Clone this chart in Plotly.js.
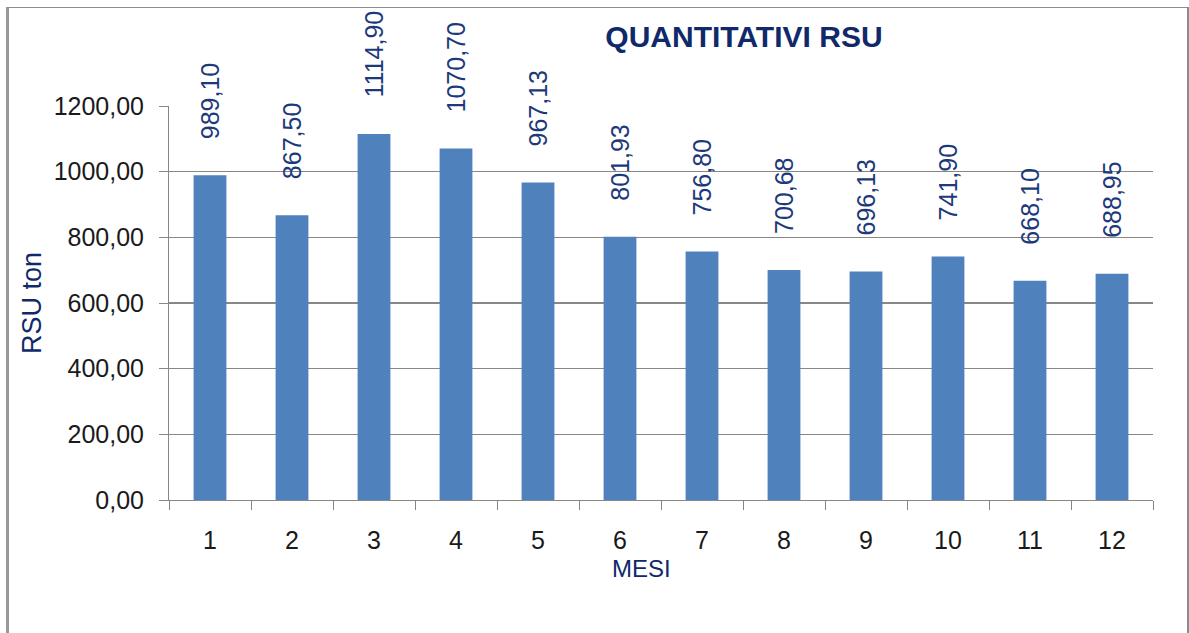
<!DOCTYPE html>
<html>
<head>
<meta charset="utf-8">
<script src="https://cdn.plot.ly/plotly-3.0.1.min.js"></script>
<style>
  html, body { margin: 0; padding: 0; background: #fff; }
  #wrap { position: relative; width: 1189px; height: 633px; overflow: hidden; }
  #chart { width: 1189px; height: 633px; }
  #frame { position: absolute; left: 6px; top: 7px; width: 1178px; height: 640px;
           border-top: 1px solid #8c8c8c; border-right: 2px solid #8c8c8c;
           border-left: 3px solid #999; pointer-events: none; }
</style>
</head>
<body>
<div id="wrap">
  <div id="chart"></div>
  <div id="frame"></div>
</div>
<script>
// ---- data ----
const months = ["1", "2", "3", "4", "5", "6", "7", "8", "9", "10", "11", "12"];
const tonnes = [989.10, 867.50, 1114.90, 1070.70, 967.13, 801.93, 756.80, 700.68, 696.13, 741.90, 668.10, 688.95];
const yTicks = [0, 200, 400, 600, 800, 1000, 1200];

const chartTitle = "QUANTITATIVI RSU";
const xTitle = "MESI";
const yTitle = "RSU ton";

// ---- styles ----
const navy = "#10296b";
const labelNavy = "#1c3a7a";
const barColor = "#4f81bd";
const gridColor = "#878787";
const tickFont = { family: "Liberation Sans, Arial, sans-serif", size: 25, color: "#1a1a1a" };

const fmt = v => v.toFixed(2).replace(".", ",");

const trace = {
  type: "bar",
  x: months,
  y: tonnes,
  marker: { color: barColor, line: { width: 0 } },
  hoverinfo: "x+y"
};

// category index positions (annotations on a category axis use the index)
const valueLabels = months.map((m, i) => ({
  x: i, y: tonnes[i], xref: "x", yref: "y",
  text: fmt(tonnes[i]),
  showarrow: false,
  textangle: -90,
  xanchor: "center", yanchor: "bottom",
  yshift: 34,
  font: { family: "Liberation Sans, Arial, sans-serif", size: 25, color: labelNavy }
}));

valueLabels.push({
  text: xTitle, xref: "paper", yref: "paper",
  x: 0.4797, y: -0.1726, xanchor: "center", yanchor: "middle",
  showarrow: false,
  font: { family: "Liberation Sans, Arial, sans-serif", size: 24, color: navy }
});

const layout = {
  width: 1189, height: 633,
  margin: { l: 169, r: 36, t: 106, b: 133 },
  paper_bgcolor: "#ffffff",
  plot_bgcolor: "#ffffff",
  separators: ",.",
  showlegend: false,
  bargap: 0.6,
  title: {
    text: "<b>" + chartTitle + "</b>",
    x: 0.6257, xref: "container", xanchor: "center",
    y: 0.943, yref: "container", yanchor: "middle",
    font: { family: "Liberation Sans, Arial, sans-serif", size: 30, color: navy }
  },
  xaxis: {
    type: "category",
    range: [-0.5, months.length - 0.5],
    tickson: "boundaries",
    ticks: "outside", ticklen: 9, tickwidth: 1, tickcolor: gridColor,
    showline: true, linecolor: gridColor, linewidth: 1,
    showgrid: false, zeroline: false,
    tickfont: tickFont,
    ticklabelstandoff: 18
  },
  yaxis: {
    range: [0, 1200],
    tickmode: "array", tickvals: yTicks,
    tickformat: ".2f",
    ticks: "outside", ticklen: 9, tickwidth: 1, tickcolor: gridColor,
    showline: true, linecolor: gridColor, linewidth: 1,
    showgrid: true, gridcolor: gridColor, gridwidth: 1.3,
    zeroline: false,
    tickfont: tickFont,
    ticklabelstandoff: 10,
    title: {
      text: yTitle, standoff: 4,
      font: { family: "Liberation Sans, Arial, sans-serif", size: 27, color: navy }
    }
  },
  annotations: valueLabels
};

Plotly.newPlot("chart", [trace], layout, { displayModeBar: false, staticPlot: true });
</script>
</body>
</html>
